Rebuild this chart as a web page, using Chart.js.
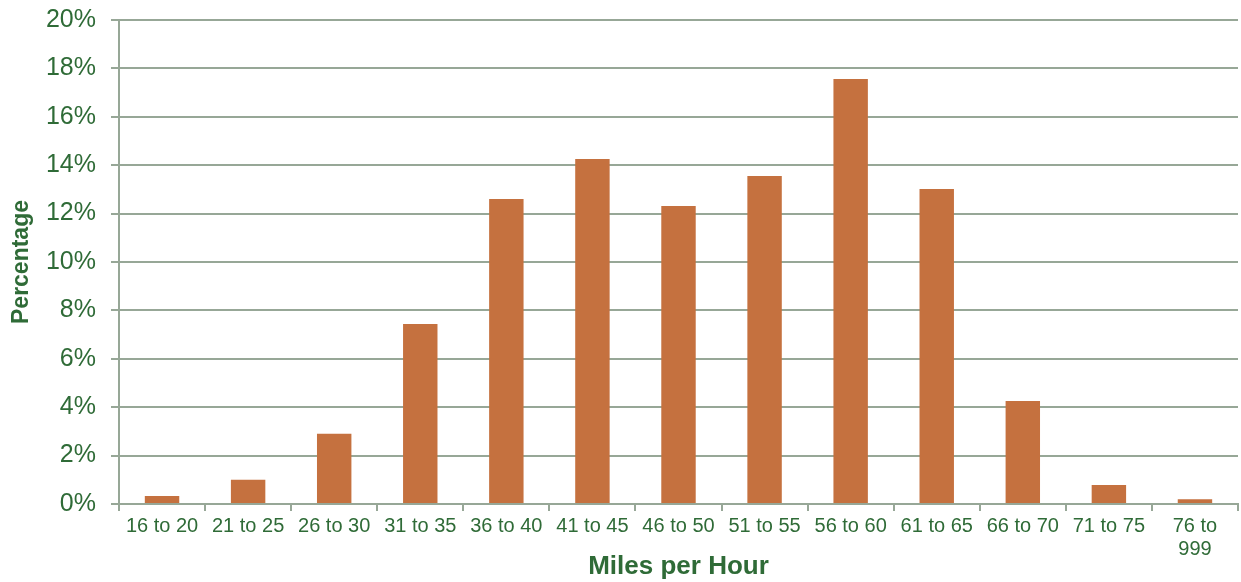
<!DOCTYPE html>
<html>
<head>
<meta charset="utf-8">
<script src="https://cdn.jsdelivr.net/npm/chart.js@4/dist/chart.umd.min.js"></script>
<style>
  html, body { margin: 0; padding: 0; background: #ffffff; }
  #wrap { width: 1241px; height: 582px; position: relative; }
</style>
</head>
<body>
<div id="wrap"><canvas id="c" width="1241" height="582"></canvas></div>
<script>
// Speed bins (mph) and share of vehicles in each bin (%)
const speedBins = ['16 to 20', '21 to 25', '26 to 30', '31 to 35', '36 to 40', '41 to 45',
  '46 to 50', '51 to 55', '56 to 60', '61 to 65', '66 to 70', '71 to 75', ['76 to', '999']];
const sharePct = [0.33, 1.0, 2.9, 7.44, 12.6, 14.26, 12.31, 13.55, 17.56, 13.02, 4.26, 0.79, 0.2];
const yTicks = [0, 2, 4, 6, 8, 10, 12, 14, 16, 18, 20];

const green = '#2f6b37';
const gridGrey = '#97a797';
const barColor = '#c5713f';

new Chart(document.getElementById('c'), {
  type: 'bar',
  data: {
    labels: speedBins,
    datasets: [{
      data: sharePct,
      backgroundColor: barColor,
      borderWidth: 0,
      barPercentage: 0.4,
      categoryPercentage: 1.0
    }]
  },
  options: {
    responsive: false,
    animation: false,
    layout: { padding: { top: 0, right: 3, left: 0, bottom: 0 } },
    plugins: { legend: { display: false }, tooltip: { enabled: false } },
    scales: {
      x: {
        offset: true,
        grid: { display: true, drawOnChartArea: false, drawTicks: true, tickLength: 7, color: gridGrey, lineWidth: 2, offset: true },
        border: { display: true, color: gridGrey, width: 2 },
        ticks: { color: green, font: { family: 'Liberation Sans', size: 20, lineHeight: 1.15 }, padding: 4, maxRotation: 0, autoSkip: false },
        title: { display: true, text: 'Miles per Hour', color: green, font: { family: 'Liberation Sans', size: 26, weight: 'bold' }, padding: { top: 0, bottom: 0 } },
        afterFit: (s) => { s.height = 78; }
      },
      y: {
        min: 0, max: 20,
        afterBuildTicks: (s) => { s.ticks = yTicks.map(v => ({ value: v })); },
        grid: { color: gridGrey, lineWidth: 2, tickLength: 8 },
        border: { display: true, color: gridGrey, width: 2 },
        ticks: { color: green, font: { family: 'Liberation Sans', size: 25, lineHeight: 1.0 }, padding: 15, callback: (v) => v + '%' },
        title: { display: true, text: 'Percentage', color: green, font: { family: 'Liberation Sans', size: 23, weight: 'bold' }, padding: { top: 8, bottom: 0 } },
        afterFit: (s) => { s.width = 119; s.paddingTop = 20; s.paddingBottom = 0; }
      }
    }
  }
});
</script>
</body>
</html>
